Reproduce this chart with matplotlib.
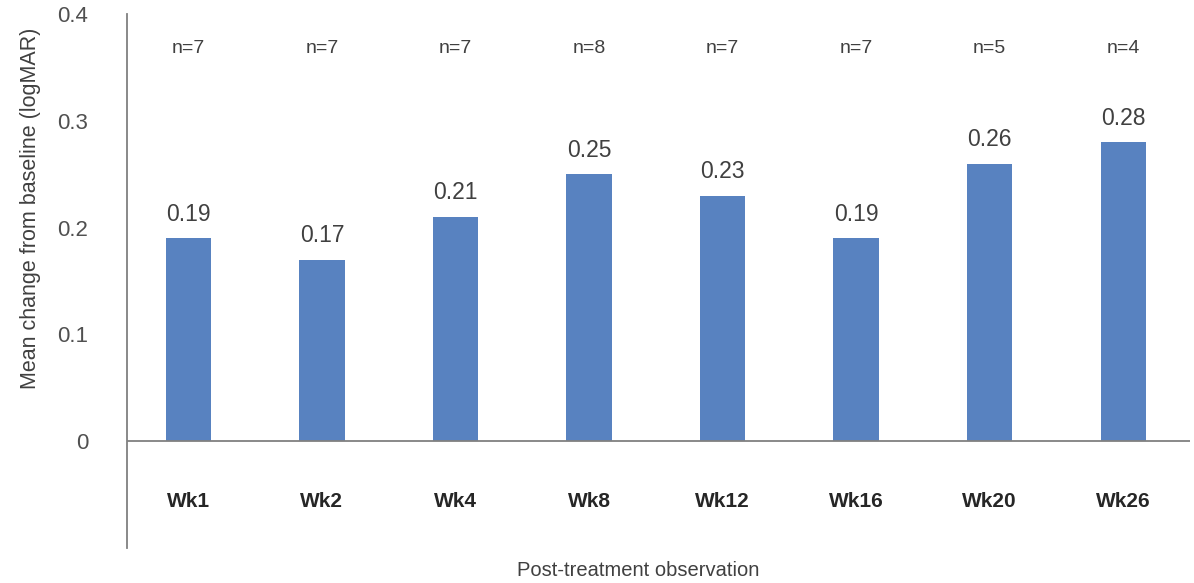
import matplotlib.pyplot as plt

# Dados
semanas = ["Wk1", "Wk2", "Wk4", "Wk8", "Wk12", "Wk16", "Wk20", "Wk26"]
media = [0.19, 0.17, 0.21, 0.25, 0.23, 0.19, 0.26, 0.28]
rotulos = ["0.19", "0.17", "0.21", "0.25", "0.23", "0.19", "0.26", "0.28"]
n_pacientes = [7, 7, 7, 8, 7, 7, 5, 4]
yticks = [0, 0.1, 0.2, 0.3, 0.4]
ytick_labels = ["0", "0.1", "0.2", "0.3", "0.4"]

plt.rcParams['font.family'] = ['Liberation Sans', 'DejaVu Sans']

fig = plt.figure(figsize=(11.94, 5.83), dpi=100)
ax = fig.add_axes([127 / 1194, 1 - 548 / 583, 1063 / 1194, 534 / 583])

x = range(len(semanas))
ax.bar(x, media, width=0.34, color="#5882C0", zorder=2)
ax.axhline(0, color="#808080", linewidth=1.3, zorder=3)

for i in x:
    ax.text(i, media[i] + 0.0225, rotulos[i], ha="center", va="center",
            fontsize=16.5, color="#404040")
    ax.text(i, 0.368, f"n={n_pacientes[i]}", ha="center", va="center",
            fontsize=14, color="#404040")
    ax.text(i, -0.056, semanas[i], ha="center", va="center",
            fontsize=15, fontweight="bold", color="#262626")

ax.set_xlim(-0.46, 7.5)
ax.set_ylim(-0.1, 0.4)
ax.set_yticks(yticks)
ax.set_yticklabels(ytick_labels, fontsize=16, color="#505050")
ax.set_xticks([])
ax.tick_params(axis="y", length=0, pad=28)

for lado in ["top", "right", "bottom"]:
    ax.spines[lado].set_visible(False)
ax.spines["left"].set_color("#808080")
ax.spines["left"].set_linewidth(1.3)

fig.text(31 / 1194, 1 - 208 / 583, "Mean change from baseline (logMAR)",
         rotation=90, ha="center", va="center", fontsize=15.5, color="#404040")
fig.text(638 / 1194, 1 - 570 / 583, "Post-treatment observation",
         ha="center", va="center", fontsize=14.5, color="#404040")

plt.savefig("out.png", dpi=100)
